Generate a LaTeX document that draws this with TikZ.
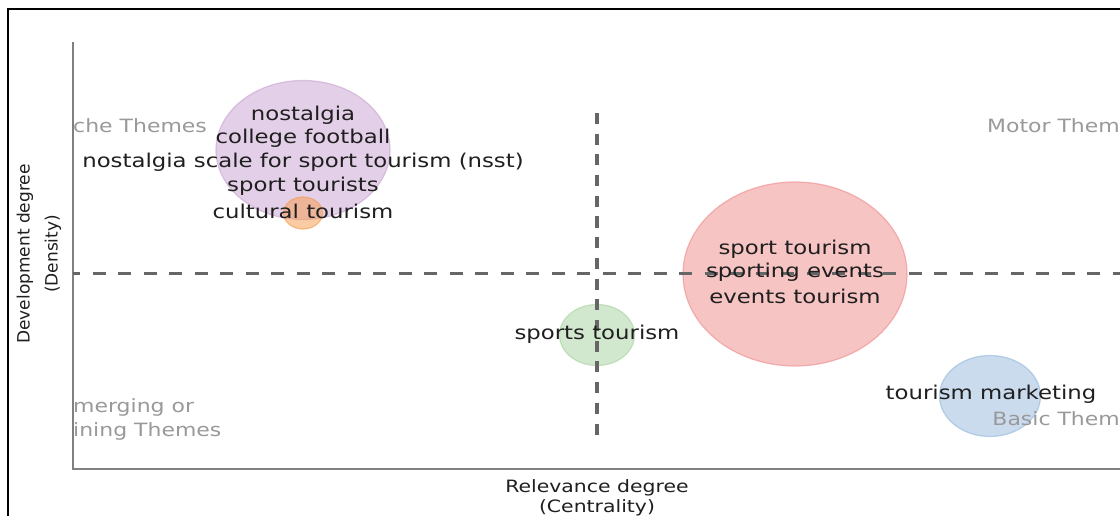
\documentclass[tikz,border=0pt]{standalone}
\usepackage{fontspec}
\usetikzlibrary{shapes.geometric}
\setmainfont{DejaVu Sans}[FakeStretch=1.2]
\newfontfamily\plainfam{DejaVu Sans}
\begin{document}
\begin{tikzpicture}[x=1pt,y=-1pt,
  lab/.style={inner sep=0pt, font=\fontsize{19}{24}\selectfont, text=black!88, align=center},
  quad/.style={inner sep=0pt, font=\fontsize{18.3}{24}\selectfont, text=black!40},
  axlab/.style={inner sep=0pt, font=\fontsize{17}{21}\selectfont, text=black!88, align=center},
  vlab/.style={inner sep=0pt, font=\plainfam\fontsize{17}{21}\selectfont, text=black!88, align=center, rotate=90},
  bub/.style={ellipse, draw, line width=1.2pt, fill opacity=0.5, draw opacity=0.6, inner sep=0pt},
  hdash/.style={draw=black!60, line width=3pt, dash pattern=on 13pt off 12.5pt, dash phase=6pt},
  vdash/.style={draw=black!60, line width=3.2pt, dash pattern=on 11pt off 9.7pt}
]
\definecolor{cpurple}{HTML}{C9A2D3}
\definecolor{corange}{HTML}{F79A4A}
\definecolor{cred}{HTML}{F08A8A}
\definecolor{cgreen}{HTML}{A6D39E}
\definecolor{cblue}{HTML}{94B8DC}
\useasboundingbox (0,0) rectangle (1120,516);
\fill[white] (0,0) rectangle (1120,516);
% outer frame
\draw[black, line width=2pt] (8,516) -- (8,9) -- (1120,9);
% axes
\coordinate (ytop) at (73,42);
\coordinate (orig) at (73,469);
\coordinate (xend) at (1120,469);
\draw[black!50, line width=1.2pt] (ytop) -- (orig) -- (xend);
% quadrant labels
\node[quad, anchor=west] (niche) at (73,126) {che Themes};
\node[quad, anchor=east] (motor) at (1120,126) {Motor Them};
\node[quad, anchor=west] (emerg1) at (73,407) {merging or};
\node[quad, anchor=west] (emerg2) at (73,431) {ining Themes};
% bubbles
\node[bub, draw=cpurple, fill=cpurple, minimum width=174pt, minimum height=139pt] (purple) at (303,150) {};
\node[bub, draw=corange, fill=corange, minimum width=39pt, minimum height=32pt] (orange) at (303,213) {};
\node[bub, draw=cred, fill=cred, minimum width=224pt, minimum height=184pt] (red) at (795,274) {};
\node[bub, draw=cgreen, fill=cgreen, minimum width=75pt, minimum height=61pt] (green) at (597,335) {};
\node[bub, draw=cblue, fill=cblue, minimum width=101pt, minimum height=81pt] (blue) at (990,396) {};
\node[quad, anchor=east] (basic) at (1120,419) {Basic Them};
% dashed quadrant lines
\coordinate (hl) at (73,273);
\coordinate (hr) at (1120,273);
\coordinate (vt) at (597,113);
\coordinate (vb) at (597,437);
\draw[hdash] (hl) -- (hr);
\draw[vdash] (vt) -- (vb);
% cluster labels
\node[lab] (t1) at (303,115) {nostalgia};
\node[lab] (t2) at (303,138) {college football};
\node[lab] (t3) at (303,162) {nostalgia scale for sport tourism (nsst)};
\node[lab] (t4) at (303,186) {sport tourists};
\node[lab] (t5) at (303,211) {cultural tourism};
\node[lab] (r1) at (795,249) {sport tourism};
\node[lab] (r2) at (795,272) {sporting events};
\node[lab] (r3) at (795,296) {events tourism};
\node[lab] (g1) at (597,334) {sports tourism};
\node[lab] (b1) at (991,394) {tourism marketing};
% axis labels
\node[axlab] (xl1) at (597,488) {Relevance degree};
\node[axlab] (xl2) at (597,508) {(Centrality)};
\node[vlab] (yl1) at (25,254) {Development degree};
\node[vlab] (yl2) at (53,254) {(Density)};
\end{tikzpicture}
\end{document}
